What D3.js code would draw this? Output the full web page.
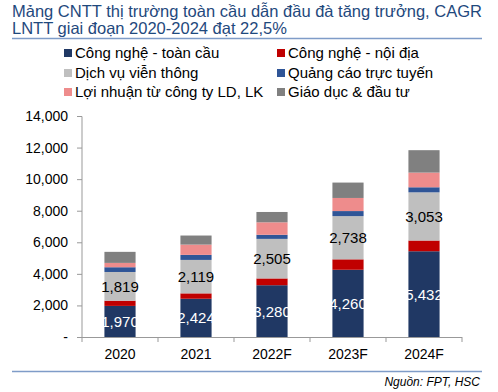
<!DOCTYPE html>
<html><head><meta charset="utf-8">
<script src="https://cdn.jsdelivr.net/npm/d3@7"></script>
<style>body{margin:0;background:#fff}svg{display:block;font-family:"Liberation Sans",Arial,sans-serif}</style>
</head><body><svg id="c" width="498" height="392"></svg>
<script>
const categories = ["2020","2021","2022F","2023F","2024F"];
const seriesNames = ["Công nghệ - toàn cầu","Công nghệ - nội địa","Dịch vụ viễn thông","Quảng cáo trực tuyến","Lợi nhuận từ công ty LD, LK","Giáo dục & đầu tư"];
const congNgheToanCau = [1970, 2424, 3280, 4260, 5432];
const congNgheNoiDia = [330, 340, 430, 660, 680];
const dichVuVienThong = [1819, 2119, 2505, 2738, 3053];
const quangCao = [300, 320, 260, 320, 320];
const loiNhuanLDLK = [275, 650, 790, 830, 930];
const giaoDucDauTu = [700, 575, 655, 975, 1420];
const yTicks = [0, 2000, 4000, 6000, 8000, 10000, 12000, 14000];
const colors = ["#203864","#C00000","#BFBFBF","#2F5597","#EE8C8C","#808080"];
const labelled = {0: "#fff", 2: "#000"};

const seriesValues = [congNgheToanCau, congNgheNoiDia, dichVuVienThong, quangCao, loiNhuanLDLK, giaoDucDauTu];
const rows = categories.map((c, i) => { const r = {cat: c}; seriesNames.forEach((s, k) => r[s] = seriesValues[k][i]); return r; });
const stacked = d3.stack().keys(seriesNames)(rows);

const svg = d3.select("#c");
const fmt = d3.format(",");

// title
const title = svg.append("text").attr("fill","#1F497D").style("font-size","16.5px");
title.append("tspan").attr("x",12).attr("y",17).text("Mảng CNTT thị trường toàn cầu dẫn đầu đà tăng trưởng, CAGR");
title.append("tspan").attr("x",12).attr("y",34).text("LNTT giai đoạn 2020-2024 đạt 22,5%");
svg.append("line").attr("x1",12).attr("x2",482).attr("y1",38.5).attr("y2",38.5).attr("stroke","#7F9CC8").attr("stroke-width",1.5);

// legend
const legPos = [[64,53],[277,53],[64,73],[277,73],[64,92],[277,92]];
seriesNames.forEach((s, k) => {
  const [lx, ly] = legPos[k];
  svg.append("rect").attr("x",lx).attr("y",ly-4).attr("width",8).attr("height",8).attr("fill",colors[k]);
  svg.append("text").attr("x",lx+11).attr("y",ly+5).style("font-size","15px").attr("fill","#000").text(s);
});

const x = d3.scaleBand().domain(categories).range([82, 462]).paddingInner(0.59).paddingOuter(0.295);
const y = d3.scaleLinear().domain([0, 14000]).range([337, 116]);

// bars
stacked.forEach((ser, k) => {
  svg.append("g").selectAll("rect").data(ser).join("rect")
    .attr("x", d => x(d.data.cat)).attr("width", x.bandwidth())
    .attr("y", d => y(d[1])).attr("height", d => y(d[0]) - y(d[1]))
    .attr("fill", colors[k]);
  if (labelled[k] !== undefined) {
    svg.append("g").selectAll("text").data(ser).join("text")
      .attr("x", d => x(d.data.cat) + x.bandwidth()/2)
      .attr("y", d => (y(d[0]) + y(d[1]))/2 + 5.5)
      .attr("text-anchor","middle").style("font-size","15px")
      .attr("fill", labelled[k]).text(d => fmt(d[1]-d[0]));
  }
});

// y axis
const yAxis = d3.axisLeft(y).tickValues(yTicks).tickSize(5).tickPadding(9)
  .tickFormat(d => d === 0 ? "-" : fmt(d));
const gy = svg.append("g").attr("transform","translate(82,0)").call(yAxis);
gy.select(".domain").attr("stroke","#999").attr("d","M-5,116.5H0V337.5");
gy.selectAll(".tick line").attr("stroke","#999");
gy.selectAll(".tick text").style("font-size","14px").attr("fill","#000").style("font-family","Liberation Sans, Arial, sans-serif");

// x axis
const gx = svg.append("g").attr("transform","translate(0,337)");
gx.append("line").attr("x1",82).attr("x2",462).attr("y1",0.5).attr("y2",0.5).attr("stroke","#999");
const bounds = d3.range(categories.length + 1).map(i => 82 + i * (380 / categories.length));
gx.selectAll("line.t").data(bounds).join("line").attr("class","t")
  .attr("x1", d => d).attr("x2", d => d).attr("y1",0).attr("y2",5).attr("stroke","#999");
gx.selectAll("text").data(categories).join("text")
  .attr("x", d => x(d) + x.bandwidth()/2).attr("y", 22)
  .attr("text-anchor","middle").style("font-size","14px").attr("fill","#000").text(d => d);

// footer
svg.append("line").attr("x1",12).attr("x2",482).attr("y1",371.5).attr("y2",371.5).attr("stroke","#7F9CC8").attr("stroke-width",1.5);
svg.append("text").attr("x",480).attr("y",386).attr("text-anchor","end").style("font-size","12px").style("font-style","italic").attr("fill","#000").text("Nguồn: FPT, HSC");
</script></body></html>
